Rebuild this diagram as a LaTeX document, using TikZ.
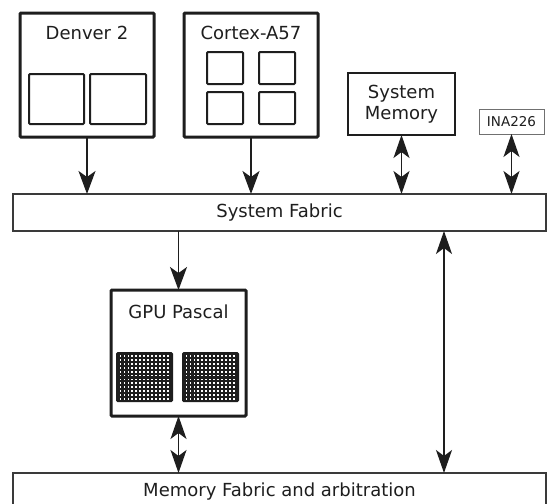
\documentclass[tikz,border=0pt]{standalone}
\usepackage{fontspec}
\setmainfont{DejaVu Sans}
\usetikzlibrary{arrows.meta}
\definecolor{ink}{HTML}{1E1E1E}
\definecolor{thin}{HTML}{3A3A3A}
\definecolor{grayb}{HTML}{707070}
\tikzset{
  bigbox/.style={draw=ink, line width=3pt, rounded corners=1pt, inner sep=0pt, outer sep=0pt},
  core/.style={draw=ink, line width=2pt, rounded corners=1pt},
  membox/.style={draw=ink, line width=2pt, inner sep=0pt, outer sep=0pt},
  fabricbox/.style={draw=thin, line width=1.4pt, inner sep=0pt, outer sep=0pt},
  inabox/.style={draw=grayb, line width=1pt, inner sep=0pt, outer sep=0pt},
  title/.style={text=ink, font=\fontsize{18}{21.5}\selectfont, inner sep=0pt},
  conn/.style={draw=ink, line width=1.3pt, -{Stealth[length=23pt,width=17pt,inset=6pt]}},
  dconn/.style={draw=ink, line width=1.3pt, {Stealth[length=23pt,width=16pt,inset=6pt]}-{Stealth[length=23pt,width=16pt,inset=6pt]}},
  gpucore/.style={fill=ink, rounded corners=1.5pt}
}
\begin{document}
\begin{tikzpicture}[x=1pt,y=-1pt]
\useasboundingbox (0,0) rectangle (547,504);
\fill[white] (0,0) rectangle (547,504);
\begin{scope}
\clip (0,0) rectangle (547,504);
% Denver
\node[bigbox, minimum width=134pt, minimum height=124pt] (denver) at (87,75) {};
\node[title] (denvert) at (87,33) {Denver 2};
\draw[core] (29,74) rectangle (84,124);
\draw[core] (90,74) rectangle (146,124);
% Cortex
\node[bigbox, minimum width=134pt, minimum height=124pt] (cortex) at (251,75) {};
\node[title] (cortext) at (251,33) {Cortex-A57};
\draw[core] (207,52) rectangle (243,84);
\draw[core] (259,52) rectangle (295,84);
\draw[core] (207,92) rectangle (243,124);
\draw[core] (259,92) rectangle (295,124);
% System memory
\node[membox, minimum width=107pt, minimum height=62pt, align=center, text=ink,
      font=\fontsize{18}{21}\selectfont] (sysmem) at (401.5,104) {System\\Memory};
% INA226
\node[inabox, minimum width=65pt, minimum height=25pt, text=ink,
      font=\fontsize{13.5}{15}\selectfont] (ina) at (511.5,121.5) {INA226};
% System fabric
\node[fabricbox, minimum width=533pt, minimum height=37pt, title] (fabric) at (279.5,212.5) {System Fabric};
% GPU
\node[bigbox, minimum width=135pt, minimum height=126pt] (gpu) at (178.5,353) {};
\node[title] (gput) at (178.5,312) {GPU Pascal};
\foreach \x in {116,182}{
  \fill[gpucore] (\x,352) rectangle ++(57,50);
  \foreach \i in {0,...,12}{
    \foreach \j in {0,...,11}{
      \fill[white] ({\x+3.6+\i*3.95},{352+3.4+\j*3.85}) rectangle ++(1.8,1.8);
    }
  }
}
% Memory fabric
\node[fabricbox, minimum width=533pt, minimum height=40pt] (memfab) at (279.5,493) {};
\node[title] (memfabt) at (279.5,492) {Memory Fabric and arbitration};
\end{scope}
% connectors
\draw[conn] (denver.south) -- (denver.south |- fabric.north);
\draw[conn] (cortex.south) -- (cortex.south |- fabric.north);
\draw[dconn] (sysmem.south) -- (sysmem.south |- fabric.north);
\draw[dconn] (ina.south) -- (ina.south |- fabric.north);
\draw[conn] (fabric.south -| gpu.north) -- (gpu.north);
\draw[dconn] (gpu.south) -- (gpu.south |- memfab.north);
\coordinate (lx) at (444,0);
\draw[dconn] (lx |- fabric.south) -- (lx |- memfab.north);
\end{tikzpicture}
\end{document}
